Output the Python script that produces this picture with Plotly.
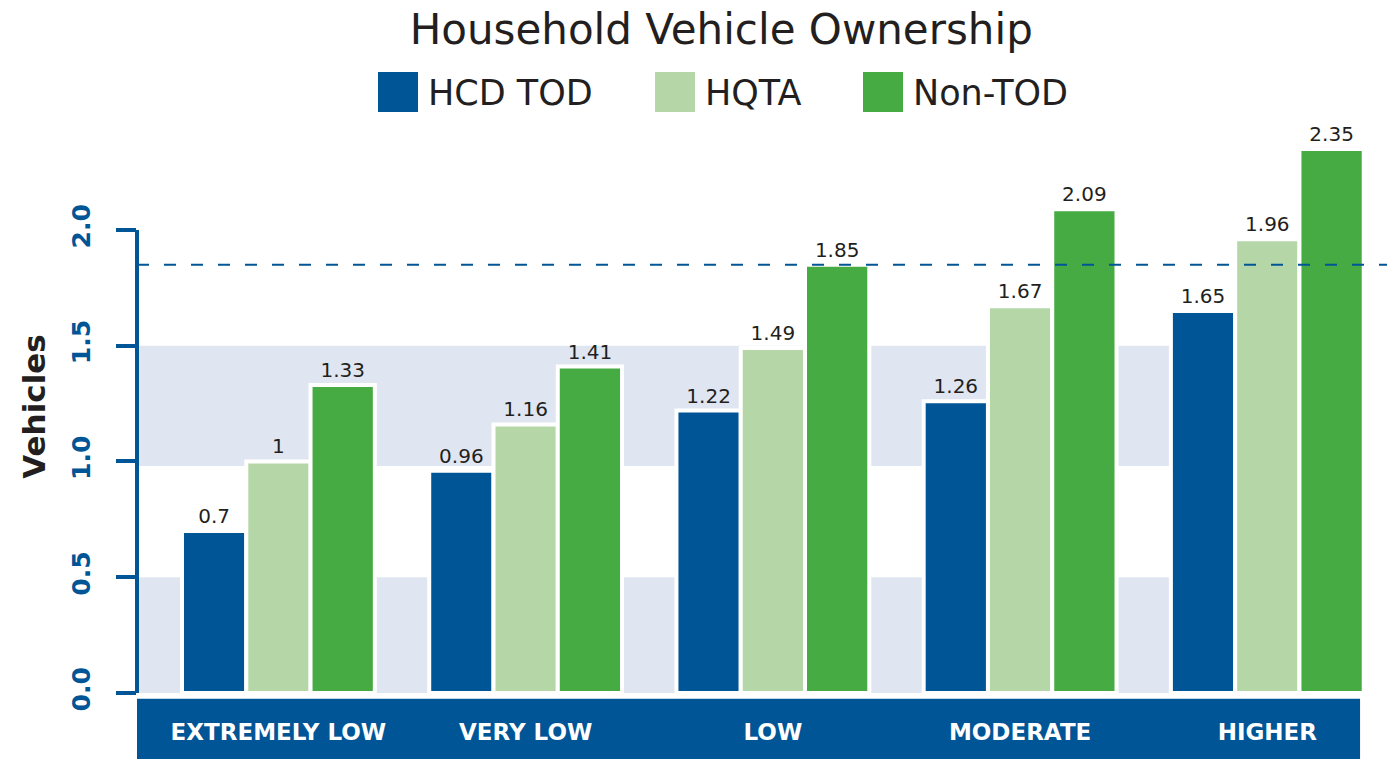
import plotly.graph_objects as go

categories = ["EXTREMELY LOW", "VERY LOW", "LOW", "MODERATE", "HIGHER"]
series_names = ["HCD TOD", "HQTA", "Non-TOD"]
hcd_tod = [0.7, 0.96, 1.22, 1.26, 1.65]
hqta = [1, 1.16, 1.49, 1.67, 1.96]
non_tod = [1.33, 1.41, 1.85, 2.09, 2.35]
series_values = [hcd_tod, hqta, non_tod]
colors = ["#005596", "#B5D7A8", "#45AB42"]
reference_line = 1.85
y_ticks = [0.0, 0.5, 1.0, 1.5, 2.0]
bands = [(0.0, 0.5), (0.98, 1.5)]

BLUE = "#005596"
TEXT = "#231F20"
FONT = "DejaVu Sans"

fig = go.Figure()
for name, vals, col in zip(series_names, series_values, colors):
    fig.add_trace(go.Bar(
        x=categories, y=vals, name=name,
        marker=dict(color=col, line=dict(color="white", width=4)),
        text=[str(v) for v in vals], textposition="outside",
        textfont=dict(family=FONT, size=20, color=TEXT),
        cliponaxis=False, showlegend=False,
    ))

shapes = []
for y0, y1 in bands:
    shapes.append(dict(type="rect", xref="paper", yref="y", x0=0, x1=1, y0=y0, y1=y1,
                       fillcolor="#E0E6F1", line=dict(width=0), layer="below"))
# bottom category band
shapes.append(dict(type="rect", xref="paper", yref="paper", x0=0, x1=0.9976, y0=-0.01, y1=-0.115,
                   fillcolor=BLUE, line=dict(width=0), layer="below"))
# y axis line
shapes.append(dict(type="line", xref="paper", yref="y", x0=0, x1=0, y0=-0.02, y1=2.0,
                   line=dict(color=BLUE, width=4), layer="above"))
# dashed reference line
shapes.append(dict(type="line", xref="paper", yref="y", x0=0, x1=1.02, y0=reference_line, y1=reference_line,
                   line=dict(color=BLUE, width=2, dash="12px,15px"), layer="above"))

# custom legend (large squares)
legend_x = [378, 655, 863]
annotations = []
W = 1387
L, R = 137, 24
pw = W - L - R
for lx, name, col in zip(legend_x, series_names, colors):
    shapes.append(dict(type="rect", xref="paper", yref="paper",
                       x0=(lx - L) / pw, x1=(lx + 40 - L) / pw,
                       y0=1 + (120 - 112) / 573, y1=1 + (120 - 72) / 573,
                       fillcolor=col, line=dict(width=0)))
    annotations.append(dict(xref="paper", yref="paper", x=(lx + 48 - L) / pw, y=1 + (120 - 93) / 573,
                            xanchor="left", yanchor="middle", showarrow=False, text=name,
                            font=dict(family=FONT, size=35, color=TEXT)))

fig.update_layout(
    width=1387, height=759,
    margin=dict(l=L, r=R, t=120, b=66, autoexpand=False),
    paper_bgcolor="white", plot_bgcolor="white",
    barmode="group", bargap=0.22, bargroupgap=0,
    title=dict(text="Household Vehicle Ownership", x=0.52, xanchor="center", y=1 - 29 / 759,
               yanchor="middle", font=dict(family=FONT, size=42, color=TEXT)),
    shapes=shapes, annotations=annotations,
    xaxis=dict(range=[-0.572, 4.387], showgrid=False, showline=False, ticks="",
               tickfont=dict(family=FONT, size=23, color="white", weight=700),
               ticklabelstandoff=23, zeroline=False),
    yaxis=dict(range=[0, 2.475], tickvals=y_ticks, ticktext=[f"{v:.1f}" for v in y_ticks],
               showgrid=False, showline=False, zeroline=False,
               ticks="outside", ticklen=20, tickwidth=4, tickcolor=BLUE,
               tickangle=-90, tickfont=dict(family=FONT, size=25, color=BLUE, weight=700),
               ticklabelstandoff=16,
               title=dict(text="Vehicles", standoff=12,
                          font=dict(family=FONT, size=31, color=TEXT, weight=700))),
)

fig.write_html("out.html", config={"displayModeBar": False},
               post_script="document.body.style.margin='0';document.body.style.padding='0';")
